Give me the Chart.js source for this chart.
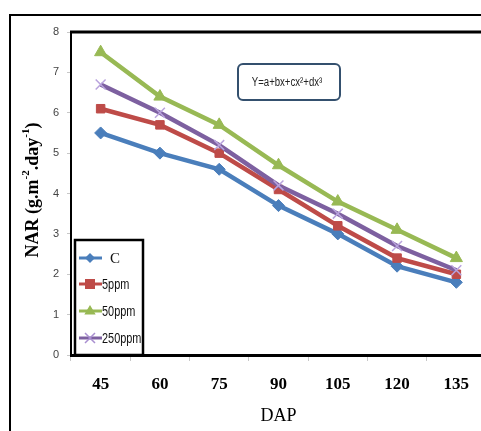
<!DOCTYPE html>
<html><head><meta charset="utf-8">
<script src="https://cdn.jsdelivr.net/npm/chart.js@4.4.1/dist/chart.umd.min.js"></script>
<style>html,body{margin:0;padding:0;background:#fff;overflow:hidden;width:481px;height:431px}#wrap{width:481px;height:431px;overflow:hidden}</style>
</head><body><div id="wrap"><canvas id="c" width="500" height="431"></canvas></div>
<script>
const categories = ['45','60','75','90','105','120','135'];
const seriesC     = [5.5, 5.0, 4.6, 3.7, 3.0, 2.2, 1.8];
const series5     = [6.1, 5.7, 5.0, 4.1, 3.2, 2.4, 2.0];
const series50    = [7.5, 6.4, 5.7, 4.7, 3.8, 3.1, 2.4];
const series250   = [6.7, 6.0, 5.2, 4.2, 3.5, 2.7, 2.1];
const yTicks = [0,1,2,3,4,5,6,7,8];

const cols = {C:'#4A7EBB', p5:'#BE4B48', p50:'#98B954', p250:'#7D60A0'};
const sans = "'Liberation Sans',Arial,sans-serif";

function fillNarrow(ctx, text, x, y, sx, align) {
  ctx.save();
  ctx.translate(x, y); ctx.scale(sx, 1);
  ctx.textAlign = align || 'left';
  ctx.fillText(text, 0, 0);
  ctx.restore();
}

function drawMarker(ctx, style, x, y, r, color, bw) {
  ctx.save();
  ctx.fillStyle = color; ctx.strokeStyle = color; ctx.lineWidth = bw || 1;
  ctx.beginPath();
  if (style === 'rectRot') { ctx.moveTo(x, y-r); ctx.lineTo(x+r, y); ctx.lineTo(x, y+r); ctx.lineTo(x-r, y); ctx.closePath(); ctx.fill(); }
  else if (style === 'rect') { ctx.rect(x-r, y-r, 2*r, 2*r); ctx.fill(); }
  else if (style === 'triangle') { ctx.moveTo(x, y-r); ctx.lineTo(x+r*0.95, y+r*0.6); ctx.lineTo(x-r*0.95, y+r*0.6); ctx.closePath(); ctx.fill(); }
  else if (style === 'crossRot') { ctx.moveTo(x-r, y-r); ctx.lineTo(x+r, y+r); ctx.moveTo(x+r, y-r); ctx.lineTo(x-r, y+r); ctx.stroke(); }
  ctx.restore();
}

const decor = {
  id: 'decor',
  afterDraw(chart) {
    const ctx = chart.ctx, a = chart.chartArea;
    ctx.save();
    // outer frame
    ctx.strokeStyle = '#000'; ctx.lineWidth = 2;
    ctx.beginPath(); ctx.moveTo(10, 432); ctx.lineTo(10, 15); ctx.lineTo(500, 15); ctx.stroke();
    // top border of plot area
    ctx.lineWidth = 3;
    ctx.beginPath(); ctx.moveTo(a.left - 1, a.top); ctx.lineTo(a.right + 20, a.top); ctx.stroke();
    // y title
    ctx.save();
    ctx.translate(33, 190); ctx.rotate(-Math.PI/2);
    ctx.fillStyle = '#000'; ctx.textBaseline = 'middle';
    const big = "bold 18px 'Liberation Serif','Times New Roman',serif";
    const sm = "bold 11px 'Liberation Serif','Times New Roman',serif";
    const parts = [['NAR (g.m', big, 0], ['-2', sm, -7], ['.day', big, 0], ['-1', sm, -7], [')', big, 0]];
    let w = 0;
    parts.forEach(p => { ctx.font = p[1]; w += ctx.measureText(p[0]).width; });
    let x = -w/2;
    parts.forEach(p => { ctx.font = p[1]; ctx.fillText(p[0], x, p[2]); x += ctx.measureText(p[0]).width; });
    ctx.restore();
    // equation box
    ctx.strokeStyle = '#34506e'; ctx.lineWidth = 2;
    ctx.beginPath(); ctx.roundRect(238, 64, 102, 36, 5); ctx.stroke();
    ctx.fillStyle = '#222'; ctx.font = '12px ' + sans; ctx.textBaseline = 'middle';
    fillNarrow(ctx, 'Y=a+bx+cx\u00B2+dx\u00B3', 287, 83, 0.8, 'center');
    // legend
    ctx.fillStyle = '#fff'; ctx.fillRect(75, 240, 68, 115);
    ctx.strokeStyle = '#000'; ctx.lineWidth = 2.5;
    ctx.strokeRect(75, 240, 68, 115);
    const items = [
      ['C', cols.C, 'rectRot', 5, 258, "15px 'Liberation Serif',serif", 1],
      ['5ppm', cols.p5, 'rect', 5, 284, '14px ' + sans, 0.78],
      ['50ppm', cols.p50, 'triangle', 6, 311, '14px ' + sans, 0.78],
      ['250ppm', cols.p250, 'crossRot', 5, 338, '14px ' + sans, 0.78]
    ];
    items.forEach((it, i) => {
      ctx.strokeStyle = it[1]; ctx.lineWidth = 3;
      ctx.beginPath(); ctx.moveTo(79, it[4]); ctx.lineTo(102, it[4]); ctx.stroke();
      drawMarker(ctx, it[2], 90, it[4], it[3], i === 3 ? '#a98fd0' : it[1], 1.5);
      ctx.fillStyle = '#111'; ctx.font = it[5]; ctx.textBaseline = 'middle';
      fillNarrow(ctx, it[0], i === 0 ? 110 : 102, it[4] + 1, it[6], 'left');
    });
    ctx.restore();
  }
};

function ds(label, data, color, style, r, order, pcol) {
  return { label, data, borderColor: color, backgroundColor: pcol || color, pointBackgroundColor: pcol || color,
    pointBorderColor: pcol || color, borderWidth: 4.5, pointStyle: style, pointRadius: r, pointBorderWidth: style === 'crossRot' ? 1.5 : 1,
    tension: 0, fill: false, order };
}

new Chart(document.getElementById('c'), {
  type: 'line',
  data: {
    labels: categories,
    datasets: [
      ds('C', seriesC, cols.C, 'rectRot', 6, 3),
      ds('5ppm', series5, cols.p5, 'rect', 6, 2),
      ds('50ppm', series50, cols.p50, 'triangle', 7, 1),
      ds('250ppm', series250, cols.p250, 'crossRot', 7, 0, '#b9a3dd')
    ]
  },
  options: {
    responsive: false, animation: false,
    layout: { padding: { top: 32, right: 14, left: 0, bottom: 0 } },
    plugins: { legend: { display: false }, tooltip: { enabled: false } },
    scales: {
      x: {
        offset: true,
        grid: { display: true, drawOnChartArea: false, offset: true, tickLength: 6, color: '#c8c8c8', tickWidth: 1 },
        border: { display: true, color: '#000', width: 3 },
        ticks: { padding: 13, color: '#000', font: { family: "'Liberation Serif','Times New Roman',serif", size: 17, weight: 'bold' } },
        title: { display: true, text: 'DAP', color: '#000', padding: { top: 4 }, font: { family: "'Liberation Serif','Times New Roman',serif", size: 18 } },
        afterFit(s) { s.height = 76; }
      },
      y: {
        min: 0, max: 8,
        afterBuildTicks(s) { s.ticks = yTicks.map(v => ({ value: v })); },
        grid: { display: true, drawOnChartArea: false, tickLength: 4, color: '#c8c8c8' },
        border: { display: true, color: '#000', width: 2 },
        ticks: { padding: 8, color: '#444', font: { family: sans, size: 11 } },
        afterFit(s) { s.width = 71; }
      }
    }
  },
  plugins: [decor]
});
</script></body></html>
